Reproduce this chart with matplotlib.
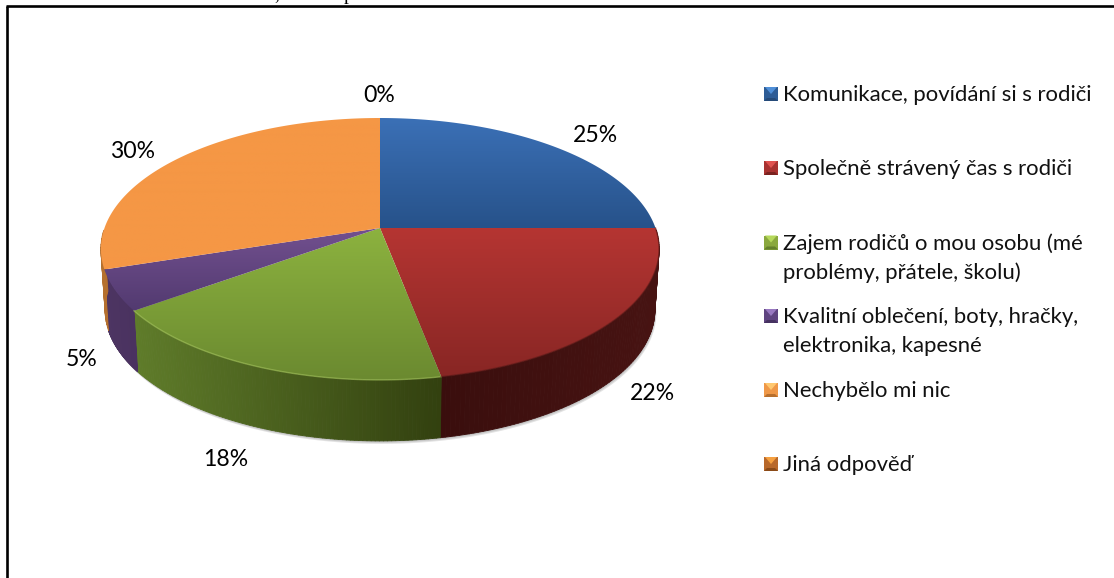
import numpy as np
import matplotlib.pyplot as plt
from matplotlib.collections import PolyCollection
from matplotlib.colors import to_rgb
from matplotlib.patches import Polygon

plt.rcParams['font.family'] = ['Lato', 'DejaVu Sans']

# data
categories = ['Komunikace, povídání si s rodiči', 'Společně strávený čas s rodiči',
              'Zajem rodičů o mou osobu (mé\nproblémy, přátele, školu)',
              'Kvalitní oblečení, boty, hračky,\nelektronika, kapesné',
              'Nechybělo mi nic', 'Jiná odpověď']
values = [25, 22, 18, 5, 30, 0]
pct_labels = ['25%', '22%', '18%', '5%', '30%', '0%']

# styles
top_cols = [('#3b70b6', '#27528a'), ('#b53532', '#882624'), ('#8cb23f', '#6b8a30'),
            ('#72508f', '#523a70'), ('#f59745', '#f59745'), ('#c0641e', '#c0641e')]
wall_cols = [('#1f3d66', '#1f3d66'), ('#3a0e0d', '#471312'), ('#5f7c2a', '#32400f'),
             ('#4d3562', '#4a3260'), ('#b5702e', '#b5702e'), ('#804010', '#804010')]
key_cols = [('#4f8fd8', '#2d5c96', '#254a78'), ('#e0524f', '#a83230', '#7a2220'),
            ('#b5d85a', '#8aa83e', '#64802c'), ('#9878c0', '#5f4480', '#453160'),
            ('#ffc870', '#ef9848', '#b8702e'), ('#f5a040', '#b8682a', '#8a4a18')]
pct_pos = [(595, 136), (652, 394), (226, 459), (82, 360), (133, 151), (379, 96)]
key_y = [94, 168, 242.5, 316, 390, 464]

# pie geometry in pixels (perspective tilt)
cx, cy = 380, 228
A, B, k = 275.5, 127.6, 0.16
depth, shrink = 61, 0.985


def project(theta, low=False):
    t = np.radians(theta)
    den = 1 + k * np.sin(t)
    X = A * np.cos(t) / den
    Y = -B * np.sin(t) / den
    if low:
        return cx + X * shrink, cy + Y + depth
    return cx + X, cy + Y


def mix(c1, c2, f):
    return (1 - f) * np.array(to_rgb(c1)) + f * np.array(to_rgb(c2))


fig = plt.figure(figsize=(11.14, 5.78), dpi=100)
ax = fig.add_axes([0, 0, 1, 1])

wedges, _ = ax.pie(values, startangle=90, counterclock=False)
angles = [(w.theta1, w.theta2) for w in wedges]
for w in wedges:
    w.remove()

# soft shadow under the pie, front half only
all_t = np.linspace(180, 360, 181)
sx, sy = project(all_t, low=True)
for off in [3, 2, 1]:
    ax.fill(sx + off * 0.5, sy + off, color='#808080', alpha=0.22, lw=0, zorder=1)

# side walls, only the part that faces the viewer
for i, (t1, t2) in enumerate(angles):
    if values[i] == 0:
        continue
    th = np.linspace(t1, t2, 90)
    xt, yt = project(th)
    xb, yb = project(th, low=True)
    quads, cols = [], []
    x0, x1 = xt.min(), xt.max()
    for j in range(len(th) - 1):
        if np.sin(np.radians(th[j])) > -0.03 and np.sin(np.radians(th[j + 1])) > -0.03:
            continue
        quads.append([(xt[j], yt[j]), (xt[j + 1], yt[j + 1]), (xb[j + 1], yb[j + 1]), (xb[j], yb[j])])
        cols.append(mix(wall_cols[i][0], wall_cols[i][1], (xt[j] - x0) / (x1 - x0)))
    if quads:
        ax.add_collection(PolyCollection(quads, facecolors=cols, edgecolors=cols, linewidths=0.6, zorder=3))

# top faces with a vertical gradient
for i, (t1, t2) in enumerate(angles):
    if values[i] == 0:
        continue
    th = np.linspace(t1, t2, 200)
    xt, yt = project(th)
    px = np.r_[cx, xt]
    py = np.r_[cy, yt]
    grad = np.array([mix(top_cols[i][0], top_cols[i][1], f) for f in np.linspace(0, 1, 64)])[:, None, :]
    im = ax.imshow(grad, extent=[px.min(), px.max(), py.max(), py.min()], aspect='auto', zorder=5)
    im.set_clip_path(Polygon(np.c_[px, py], transform=ax.transData))

# rim highlight on the front of the green slice, dark rim on the red one
for i, col, a in [(2, '#a4c45c', 0.6), (1, '#5a1816', 0.6)]:
    xt, yt = project(np.linspace(angles[i][0], angles[i][1], 120))
    ax.plot(xt, yt, color=col, lw=1.0, alpha=a, zorder=6)

# percentage labels
for lab, (x, y) in zip(pct_labels, pct_pos):
    ax.text(x, y, lab, fontsize=16.6, color='black', ha='center', va='center', zorder=8)

# legend
for name, y, (c_top, c_side, c_bot) in zip(categories, key_y, key_cols):
    l, r = 764, 778
    t, b = y - 7, y + 7
    m = (l + r) / 2
    ax.add_patch(Polygon([(l, t), (r, t), (r, b), (l, b)], fc=c_side, ec='none', zorder=7))
    ax.add_patch(Polygon([(l + 1, t), (r - 1, t), (m, y)], fc=c_top, ec='none', zorder=8))
    ax.add_patch(Polygon([(l, b), (r, b), (r - 3, b - 3), (l + 3, b - 3)], fc=c_bot, ec='none', zorder=8))
    first = name.split('\n')
    for n, line in enumerate(first):
        ax.text(783, y + 1 + n * 29, line, fontsize=15.9, color='#111111', ha='left', va='center', zorder=8)

# frame around the chart + leftovers of the text line above it
ax.plot([7, 7], [578, 5.5], color='black', lw=1.9, solid_capstyle='butt', zorder=9)
ax.plot([6, 1114], [5.5, 5.5], color='black', lw=1.9, solid_capstyle='butt', zorder=9)
ax.text(277, -1, ',', fontsize=14, family='Liberation Serif', ha='center', va='baseline', clip_on=True)
ax.text(348, 0, 'p', fontsize=14, family='Liberation Serif', ha='center', va='baseline', clip_on=True)

ax.set_xlim(0, 1114)
ax.set_ylim(578, 0)
ax.set_aspect('auto')
ax.axis('off')
fig.savefig('out.png', dpi=100)
